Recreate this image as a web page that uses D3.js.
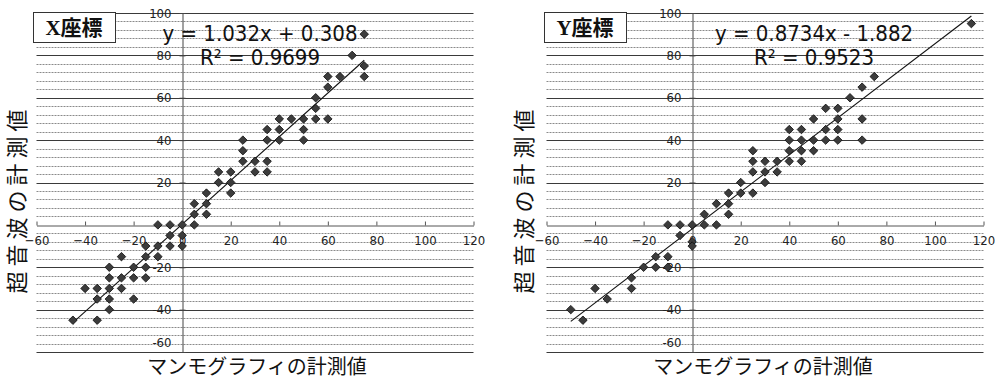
<!DOCTYPE html>
<html><head><meta charset="utf-8">
<script src="https://cdn.jsdelivr.net/npm/d3@7"></script>
<style>html,body{margin:0;padding:0;background:#fff;} svg{display:block;}</style>
</head><body>
<svg id="chart" width="995" height="380"></svg>
<script>
// ---------- data ----------
const xTicks = [-60, -40, -20, 0, 20, 40, 60, 80, 100, 120];
const yTicks = [-60, -40, -20, 0, 20, 40, 60, 80, 100];
const chartTitles = ["X座標", "Y座標"];
const equations = ["y = 1.032x + 0.308", "y = 0.8734x - 1.882"];
const rSquared = ["R² = 0.9699", "R² = 0.9523"];
const slopes = [1.032, 0.8734];
const intercepts = [0.308, -1.882];
const xAxisTitle = "マンモグラフィの計測値";
const yAxisTitle = "超音波の計測値";

// X座標: mammography (x) vs ultrasound (y)
const xCoordMammo = [75,70,75,75,60,65,60,55,55,55, 60,40,45,50,50,50,35,40,35,40,
  25,25,25,30,35,30,35,15,20,15, 20,20,10,5,10,5,10,5,0,-5,
  -10,-5,0,0,-5,-10,-15,-10,-15,-25, -15,-20,-30,-30,-25,-20,-15,-40,-35,-30,
  -25,-35,-30,-20,-30,-45,-35];
const xCoordUltra = [90,80,75,70,70,70,65,60,55,50, 50,50,50,50,45,40,45,45,40,40,
  40,35,30,30,30,25,25,25,25,20, 20,15,15,10,10,5,5,0,0,0,
  0,-5,-5,-10,-10,-10,-10,-15,-15,-15, -20,-20,-20,-25,-25,-25,-25,-30,-30,-30,
  -30,-35,-35,-35,-40,-45,-45];

// Y座標
const yCoordMammo = [115,75,70,65,70,70,55,60,50,60, 55,60,40,45,40,45,50,55,60,40,
  45,50,40,45,25,25,30,35,25,30, 35,30,20,15,20,25,10,15,15,5,
  5,10,0,-10,-5,-5,0,0,-15,-10, -20,-15,-10,-25,-25,-40,-35,-50,-45];
const yCoordUltra = [95,70,65,60,50,40,55,55,50,50, 45,45,45,45,40,40,40,40,40,35,
  35,35,30,30,35,30,30,30,25,25, 25,20,20,15,15,15,10,10,5,5,
  0,0,0,0,0,-5,-8,-10,-15,-15, -20,-20,-20,-25,-30,-30,-35,-40,-45];

// ---------- layout ----------
const svg = d3.select("#chart");
const panels = [
  {mammo: xCoordMammo, ultra: xCoordUltra, x0: 36.5, x1: 473.5, boxX: 33, eqX: 260, yTitleX: 17, xTitleX: 257},
  {mammo: yCoordMammo, ultra: yCoordUltra, x0: 546.5, x1: 983.5, boxX: 544, eqX: 814, yTitleX: 524, xTitleX: 763}
];
const yTop = 13, yBot = 352;
const tickFont = "'DejaVu Sans Condensed', 'DejaVu Sans', sans-serif";

panels.forEach((p, i) => {
  const g = svg.append("g");
  const x = d3.scaleLinear().domain([-60, 120]).range([p.x0, p.x1]);
  const y = d3.scaleLinear().domain([-60, 100]).range([yBot, yTop]);

  // minor gridlines
  const minor = d3.range(-60, 101, 4).filter(v => v % 20 !== 0);
  g.append("g").selectAll("line").data(minor).join("line")
    .attr("x1", x(-60)).attr("x2", x(120))
    .attr("y1", d => Math.round(y(d)) + 0.5).attr("y2", d => Math.round(y(d)) + 0.5)
    .attr("stroke", "#8a8a8a").attr("stroke-width", 1).attr("stroke-dasharray", "2,1");
  // major gridlines
  g.append("g").selectAll("line").data(yTicks.filter(v => v !== 0)).join("line")
    .attr("x1", x(-60)).attr("x2", x(120))
    .attr("y1", d => Math.round(y(d)) + 0.5).attr("y2", d => Math.round(y(d)) + 0.5)
    .attr("stroke", "#3a3a3a").attr("stroke-width", 1);

  // x axis (at y = 0)
  const xAxis = d3.axisBottom(x).tickValues(xTicks).tickSize(0).tickFormat(d3.format("d"));
  const xa = g.append("g").attr("transform", `translate(0,${Math.round(y(0)) + 0.5})`).call(xAxis);
  xa.select(".domain").attr("stroke", "#555");
  xa.selectAll(".tick text").attr("dy", "0").attr("y", 19)
    .attr("font-family", tickFont).attr("font-size", 13).attr("fill", "#222");
  xa.selectAll(".tick").append("line").attr("y1", -4).attr("y2", 0).attr("stroke", "#555");

  // y axis (at x = 0)
  const yAxis = d3.axisLeft(y).tickValues(yTicks).tickSize(0).tickFormat(d3.format("d"));
  const ya = g.append("g").attr("transform", `translate(${Math.round(x(0)) + 0.5},0)`).call(yAxis);
  ya.select(".domain").attr("stroke", "#444");
  ya.selectAll(".tick text").attr("x", -11)
    .attr("font-family", tickFont).attr("font-size", 13).attr("fill", "#222")
    .attr("dy", d => d === -60 ? "-0.4em" : "0.32em")
    .text(d => d === 0 ? "" : d);
  ya.selectAll(".tick").append("line").attr("x1", -3).attr("x2", 3).attr("stroke", "#444");

  // regression line
  const xs = d3.extent(p.mammo);
  g.append("line")
    .attr("x1", x(xs[0])).attr("y1", y(slopes[i] * xs[0] + intercepts[i]))
    .attr("x2", x(xs[1])).attr("y2", y(slopes[i] * xs[1] + intercepts[i]))
    .attr("stroke", "#111").attr("stroke-width", 1.1);

  // points (diamonds)
  const diamond = d3.symbol().type(d3.symbolSquare).size(36)();
  g.append("g").selectAll("path").data(p.mammo).join("path")
    .attr("d", diamond)
    .attr("transform", (d, k) => `translate(${x(d)},${y(p.ultra[k])}) rotate(45)`)
    .attr("fill", "#3c3c3c").attr("stroke", "#111").attr("stroke-width", 0.8);

  // title box
  g.append("rect").attr("x", p.boxX + 0.5).attr("y", 12.5).attr("width", 82).attr("height", 30)
    .attr("fill", "#fff").attr("stroke", "#333").attr("stroke-width", 1);
  g.append("text").attr("x", p.boxX + 41).attr("y", 35).attr("text-anchor", "middle")
    .attr("font-family", "'Liberation Serif', 'Noto Sans CJK JP', serif").attr("font-weight", "bold")
    .attr("font-size", 21).attr("fill", "#111").text(chartTitles[i]);

  // equation & R²
  g.append("text").attr("x", p.eqX).attr("y", 41).attr("text-anchor", "middle")
    .attr("font-family", tickFont).attr("font-size", 22).attr("fill", "#111").text(equations[i]);
  g.append("text").attr("x", p.eqX).attr("y", 65).attr("text-anchor", "middle")
    .attr("font-family", tickFont).attr("font-size", 22).attr("fill", "#111").text(rSquared[i]);

  // axis titles
  g.append("text").attr("x", p.xTitleX).attr("y", 374).attr("text-anchor", "middle")
    .attr("font-family", "'Noto Sans CJK JP', sans-serif").attr("font-size", 20).attr("fill", "#111")
    .text(xAxisTitle);
  g.append("text").attr("transform", `translate(${p.yTitleX + 8},199) rotate(-90)`)
    .attr("text-anchor", "middle")
    .attr("font-family", "'Noto Sans CJK JP', sans-serif").attr("font-size", 22).attr("fill", "#111")
    .attr("letter-spacing", 5)
    .text(yAxisTitle);
});
</script>
</body></html>
